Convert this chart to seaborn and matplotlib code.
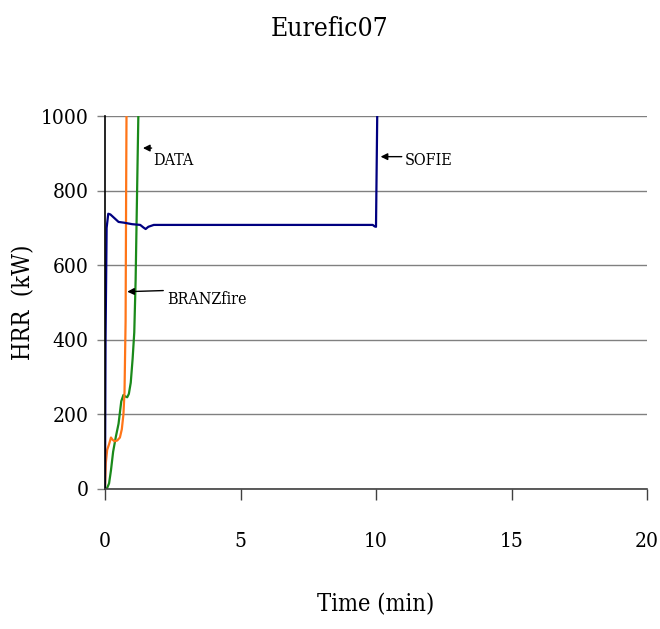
import matplotlib
matplotlib.use("Agg")
import matplotlib.pyplot as plt
import seaborn as sns
import pandas as pd
from matplotlib import font_manager as fm

# ---- data ----
sofie_t = [0, 0.02, 0.06, 0.12, 0.2, 0.35, 0.5, 0.7, 1.0, 1.3, 1.42, 1.5, 1.6, 1.8, 3, 6, 9, 9.88, 9.95, 10.0, 10.03, 10.06]
sofie_hrr = [0, 400, 700, 738, 736, 726, 716, 714, 710, 708, 701, 697, 703, 708, 708, 708, 708, 708, 704, 703, 900, 1100]

branz_t = [0, 0.03, 0.08, 0.15, 0.22, 0.28, 0.35, 0.45, 0.55, 0.62, 0.68, 0.72, 0.76, 0.78, 0.80]
branz_hrr = [0, 70, 105, 120, 138, 132, 128, 130, 138, 160, 200, 260, 450, 800, 1100]

data_t = [0, 0.08, 0.15, 0.22, 0.3, 0.4, 0.5, 0.6, 0.68, 0.75, 0.82, 0.88, 0.95, 1.02, 1.08, 1.13, 1.18, 1.23, 1.27]
data_hrr = [0, 3, 15, 50, 100, 140, 175, 235, 252, 248, 246, 255, 285, 350, 420, 560, 780, 1000, 1100]

title = "Eurefic07"
xlabel = "Time (min)"
ylabel = "HRR  (kW)"
xticks = [0, 5, 10, 15, 20]
yticks = [0, 200, 400, 600, 800, 1000]

sns.set_style("white")
# font choice: condensed serif if available
fam = "DejaVu Serif"
stretch = "condensed"
try:
    f = fm.findfont(fm.FontProperties(family="DejaVu Serif", stretch="condensed"), fallback_to_default=False)
    if "Condensed" not in f:
        fam = "Liberation Serif"
        stretch = "normal"
except Exception:
    fam = "Liberation Serif"
    stretch = "normal"
plt.rcParams["font.family"] = [fam]
plt.rcParams["font.stretch"] = stretch
plt.rcParams["text.color"] = "black"
plt.rcParams["axes.labelcolor"] = "black"
plt.rcParams["xtick.labelcolor"] = "black"
plt.rcParams["ytick.labelcolor"] = "black"

fig = plt.figure(figsize=(6.6, 6.29), dpi=100)
ax = fig.add_axes([105/660, 1-489/629, (647-105)/660, (489-116)/629])

df_s = pd.DataFrame({"t": sofie_t, "hrr": sofie_hrr})
df_b = pd.DataFrame({"t": branz_t, "hrr": branz_hrr})
df_d = pd.DataFrame({"t": data_t, "hrr": data_hrr})

for y in yticks:
    ax.axhline(y, color="#808080", lw=1.0, zorder=0)

sns.lineplot(data=df_d, x="t", y="hrr", ax=ax, color="#1a8a1a", lw=1.6, sort=False, estimator=None)
sns.lineplot(data=df_b, x="t", y="hrr", ax=ax, color="#ff7518", lw=1.6, sort=False, estimator=None)
sns.lineplot(data=df_s, x="t", y="hrr", ax=ax, color="#000080", lw=1.6, sort=False, estimator=None)

ax.set_xlim(0, 20)
ax.set_ylim(0, 1000)
ax.set_xticks(xticks)
ax.set_yticks(yticks)
ax.set_xticklabels([str(v) for v in xticks], fontsize=15)
ax.set_yticklabels([str(v) for v in yticks], fontsize=15)
ax.tick_params(axis="x", direction="out", length=8, width=1, color="#404040", pad=23, bottom=True)
ax.tick_params(axis="y", direction="out", length=6, width=1, color="#808080", pad=6, left=True)

for s in ["top", "right"]:
    ax.spines[s].set_visible(False)
ax.spines["left"].set_color("black")
ax.spines["left"].set_linewidth(1.2)
ax.spines["bottom"].set_color("#404040")
ax.spines["bottom"].set_linewidth(1.2)

ax.set_xlabel(xlabel, fontsize=17, labelpad=30)
ax.set_ylabel(ylabel, fontsize=17, labelpad=4)
fig.suptitle(title, fontsize=19, y=0.975)

arrow = dict(arrowstyle="-|>", color="black", lw=1.0, mutation_scale=10, shrinkA=0, shrinkB=0)
ax.annotate("", xy=(1.40, 914), xytext=(1.72, 914), arrowprops=arrow)
ax.text(1.78, 882, "DATA", fontsize=11.5, ha="left", va="center")
ax.annotate("", xy=(0.82, 529), xytext=(2.15, 532), arrowprops=arrow)
ax.text(2.31, 507, "BRANZfire", fontsize=11.5, ha="left", va="center")
ax.annotate("", xy=(10.17, 891), xytext=(10.95, 891), arrowprops=arrow)
ax.text(11.07, 882, "SOFIE", fontsize=11.5, ha="left", va="center")

fig.savefig("out.png", dpi=100)
